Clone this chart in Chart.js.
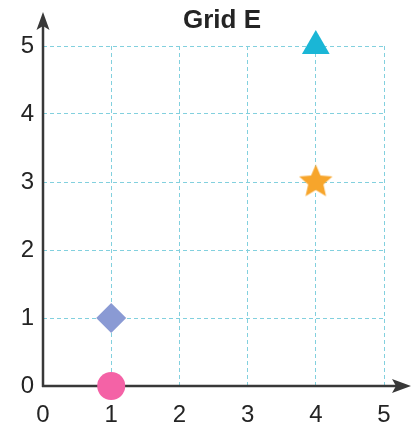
<!DOCTYPE html>
<html lang="en">
<head>
    <meta charset="UTF-8">
    <title>Grid E</title>
    <script src="https://cdn.jsdelivr.net/npm/chart.js"></script>
    <style>
        body { margin: 0; background: #fff; }
    </style>
</head>
<body>
    <canvas id="myChart" width="417" height="427"></canvas>
    <script>
        // Données du graphique
        const titleText = 'Grid E';
        const xTicks = [0, 1, 2, 3, 4, 5];
        const yTicks = [0, 1, 2, 3, 4, 5];
        const pointX = [1, 1, 4, 4];
        const pointY = [0, 1, 3, 5];

        // Styles des marqueurs
        const pointColors = ['#f462a6', '#8a9ad4', '#f7a52b', '#1ab6d6'];
        const pointShapes = ['circle', 'rectRot', 'star', 'triangle'];
        const pointSizes = [14, 15, 18, 16];

        const axisColor = '#383838';
        const gridColor = '#82d0de';
        const textColor = '#242424';
        const fontFamily = "'Liberation Sans', Arial, sans-serif";

        // Etoile pleine (le "star" de Chart.js n'est pas rempli)
        function makeStar(color, outer, inner) {
            const c = document.createElement('canvas');
            const s = Math.ceil(outer * 2 + 2);
            c.width = s; c.height = s;
            const g = c.getContext('2d');
            const cx = s / 2, cy = s / 2;
            g.beginPath();
            for (let i = 0; i < 10; i++) {
                const r = i % 2 === 0 ? outer : inner;
                const a = -Math.PI / 2 + i * Math.PI / 5;
                const px = cx + r * Math.cos(a);
                const py = cy + r * Math.sin(a);
                if (i === 0) g.moveTo(px, py); else g.lineTo(px, py);
            }
            g.closePath();
            g.fillStyle = color;
            g.fill();
            return c;
        }

        const datasets = pointX.map((x, i) => ({
            data: [{ x: x, y: pointY[i] }],
            pointStyle: pointShapes[i] === 'star' ? makeStar(pointColors[i], 17.5, 8) : pointShapes[i],
            pointRadius: pointSizes[i],
            pointHoverRadius: pointSizes[i],
            backgroundColor: pointColors[i],
            borderColor: pointColors[i],
            borderWidth: 0,
            clip: false
        }));

        // Axes avec flèches + titre
        const axesPlugin = {
            id: 'axes',
            beforeDatasetsDraw(chart) {
                const ctx = chart.ctx;
                const xs = chart.scales.x, ys = chart.scales.y;
                const x0 = xs.getPixelForValue(xTicks[0]);
                const y0 = ys.getPixelForValue(yTicks[0]);
                ctx.save();
                ctx.strokeStyle = axisColor;
                ctx.fillStyle = axisColor;
                ctx.lineWidth = 2.5;
                ctx.beginPath();
                ctx.moveTo(x0, y0 + 1);
                ctx.lineTo(x0, 24);
                ctx.moveTo(x0 - 1, y0);
                ctx.lineTo(400, y0);
                ctx.stroke();
                // flèche verticale
                ctx.beginPath();
                ctx.moveTo(x0, 12);
                ctx.lineTo(x0 + 6.5, 30);
                ctx.lineTo(x0, 26);
                ctx.lineTo(x0 - 6.5, 30);
                ctx.closePath();
                ctx.fill();
                // flèche horizontale
                ctx.beginPath();
                ctx.moveTo(411, y0);
                ctx.lineTo(392, y0 - 7);
                ctx.lineTo(396, y0);
                ctx.lineTo(392, y0 + 7);
                ctx.closePath();
                ctx.fill();
                ctx.restore();
            },
            afterDraw(chart) {
                const ctx = chart.ctx;
                ctx.save();
                ctx.fillStyle = textColor;
                ctx.font = 'bold 26px ' + fontFamily;
                ctx.textAlign = 'center';
                ctx.textBaseline = 'middle';
                ctx.fillText(titleText, 222, 21);
                ctx.restore();
            }
        };

        const ctx = document.getElementById('myChart').getContext('2d');
        new Chart(ctx, {
            type: 'scatter',
            data: { datasets: datasets },
            plugins: [axesPlugin],
            options: {
                responsive: false,
                animation: false,
                events: [],
                layout: { padding: { top: 46, right: 33, left: 0, bottom: 0 } },
                plugins: {
                    legend: { display: false },
                    title: { display: false },
                    tooltip: { enabled: false }
                },
                scales: {
                    x: {
                        type: 'linear',
                        min: xTicks[0],
                        max: xTicks[xTicks.length - 1],
                        afterFit: (scale) => { scale.height = 41; },
                        afterBuildTicks: (scale) => { scale.ticks = xTicks.map(v => ({ value: v })); },
                        ticks: {
                            padding: 15,
                            color: textColor,
                            font: { family: fontFamily, size: 24 }
                        },
                        grid: { color: gridColor, lineWidth: 1, drawTicks: false },
                        border: { display: false, dash: [4, 3] }
                    },
                    y: {
                        type: 'linear',
                        min: yTicks[0],
                        max: yTicks[yTicks.length - 1],
                        afterFit: (scale) => { scale.width = 43; },
                        afterBuildTicks: (scale) => { scale.ticks = yTicks.map(v => ({ value: v })); },
                        ticks: {
                            padding: 9,
                            color: textColor,
                            font: { family: fontFamily, size: 24 }
                        },
                        grid: { color: gridColor, lineWidth: 1, drawTicks: false },
                        border: { display: false, dash: [4, 3] }
                    }
                }
            }
        });
    </script>
</body>
</html>
